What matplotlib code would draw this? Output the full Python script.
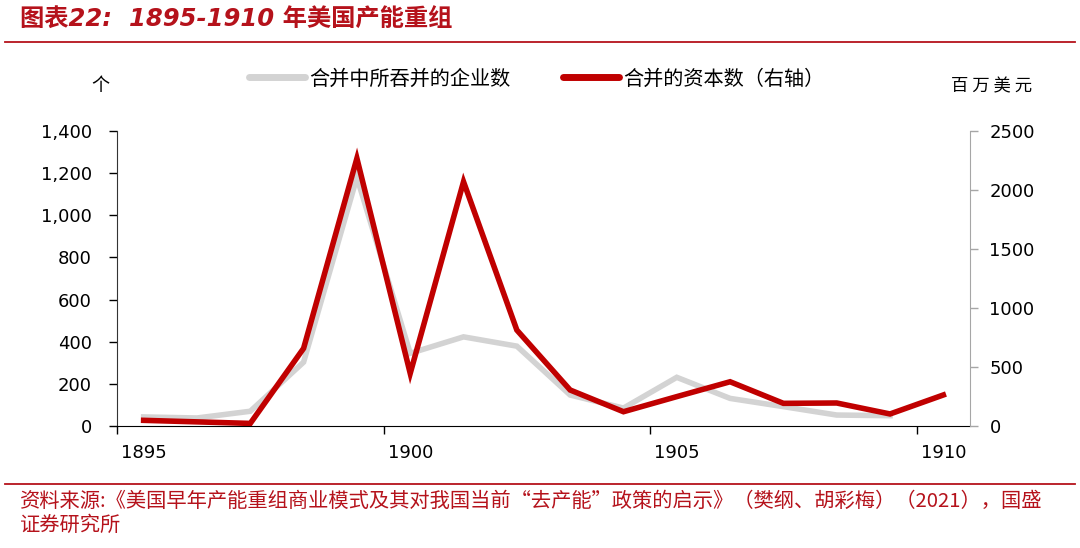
import numpy as np
import matplotlib.pyplot as plt
from matplotlib.lines import Line2D

plt.rcParams['font.family'] = ['DejaVu Sans', 'Noto Sans CJK SC']

years = ['1895', '1896', '1897', '1898', '1899', '1900', '1901', '1902',
         '1903', '1904', '1905', '1906', '1907', '1908', '1909', '1910']
# 合并中所吞并的企业数 (left axis, 个), no value for 1910
firms = [43, 38, 70, 303, 1180, 345, 423, 379, 147, 85, 231, 131, 92, 52, 49]
# 合并的资本数 (right axis, 百万美元)
capital = [48, 35, 22, 658, 2268, 446, 2070, 813, 305, 121, 249, 375, 192, 195, 102, 263]

label_firms = '合并中所吞并的企业数'
label_capital = '合并的资本数（右轴）'
title = '图表22:  1895-1910 年美国产能重组'
source = ('资料来源:《美国早年产能重组商业模式及其对我国当前“去产能”政策的启示》（樊纲、胡彩梅）（2021），国盛\n'
          '证券研究所')

red = '#C00000'
gray = '#D3D3D3'
title_red = '#B5121B'

fig = plt.figure(figsize=(10.8, 5.48), dpi=100)
ax = fig.add_axes([117 / 1080, 1 - 426 / 548, (970 - 117) / 1080, (426 - 131) / 548])
ax2 = ax.twinx()

x = np.arange(len(years))
ax.plot(x[:len(firms)], firms, color=gray, lw=4, solid_joinstyle='miter')
ax2.plot(x, capital, color=red, lw=4, solid_joinstyle='miter')

ax.set_xlim(-0.5, len(years) - 0.5)
ax.set_ylim(0, 1400)
ax2.set_ylim(0, 2500)
ax.set_yticks(np.arange(0, 1401, 200))
ax.set_yticklabels([f'{v:,}' for v in range(0, 1401, 200)])
ax2.set_yticks(np.arange(0, 2501, 500))

# ticks at category boundaries, labels at category centres
ax.set_xticks([-0.5, 4.5, 9.5, 14.5])
ax.set_xticklabels([])
ax.set_xticks([0, 5, 10, 15], minor=True)
ax.set_xticklabels([years[i] for i in [0, 5, 10, 15]], minor=True)
ax.tick_params(axis='x', which='minor', length=0, pad=13, labelsize=13)
ax.tick_params(axis='x', which='major', length=6, width=1, direction='out')
ax.tick_params(axis='y', length=6, width=1, direction='out', labelsize=13, pad=12)
ax2.tick_params(axis='y', length=6, width=1, direction='out', labelsize=13, pad=8,
                color='#A6A6A6')

for a in (ax, ax2):
    a.spines['top'].set_visible(False)
ax.spines['right'].set_visible(False)
ax2.spines['left'].set_visible(False)
ax2.spines['bottom'].set_visible(False)
ax2.spines['right'].set_color('#A6A6A6')
ax.spines['left'].set_color('#333333')
ax.spines['bottom'].set_color('#000000')

handles = [Line2D([], [], color=gray, lw=5, solid_capstyle='round'),
           Line2D([], [], color=red, lw=5, solid_capstyle='round')]
fig.legend(handles, [label_firms, label_capital], loc='center', ncol=2,
           bbox_to_anchor=(0.497, 1 - 79 / 548), frameon=False,
           handlelength=2.8, handletextpad=0.2, columnspacing=2.6,
           prop={'family': ['Noto Sans CJK SC'], 'size': 14.5})

fig.text(100 / 1080, 1 - 86 / 548, '个', ha='center', va='center',
         fontsize=13, family=['Noto Sans CJK SC'])
fig.text(992 / 1080, 1 - 86 / 548, '百 万 美 元', ha='center', va='center',
         fontsize=12.5, family=['Noto Sans CJK SC'])

fig.text(20 / 1080, 1 - 20 / 548, title, ha='left', va='center', fontsize=17.5,
         color=title_red, fontweight='bold', style='italic')
fig.add_artist(Line2D([5 / 1080, 1075 / 1080], [1 - 42 / 548] * 2, color=title_red, lw=1.3))
fig.add_artist(Line2D([5 / 1080, 1075 / 1080], [1 - 484 / 548] * 2, color=title_red, lw=1.3))
fig.text(20 / 1080, 1 - 491 / 548, source, ha='left', va='top', fontsize=14.6,
         color=title_red, style='italic', linespacing=1.2,
         family=['Noto Sans CJK SC', 'DejaVu Sans'])

fig.savefig('out.png', dpi=100)
